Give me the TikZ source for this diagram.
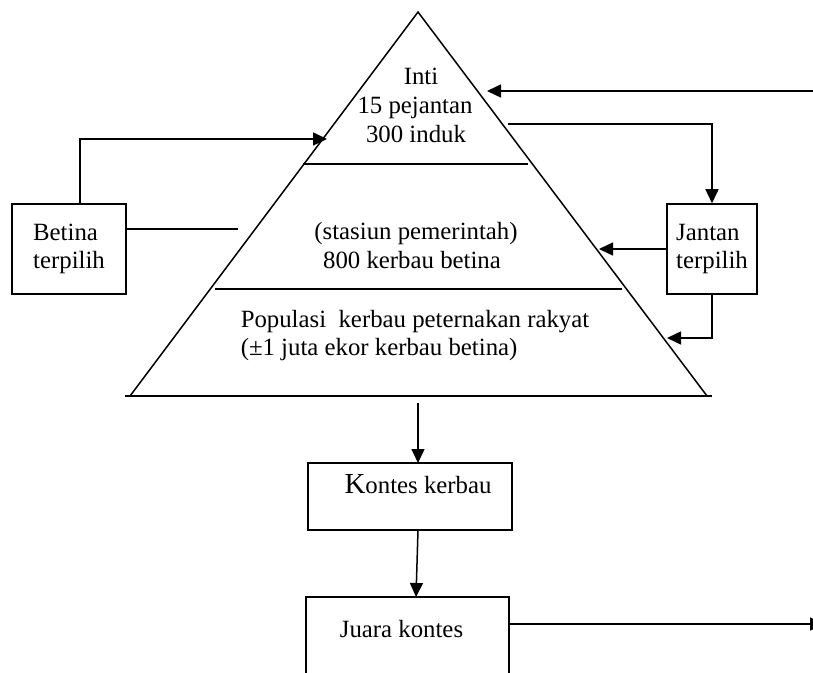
\documentclass[tikz,border=0pt]{standalone}
\usepackage{fontspec}
\setmainfont{Liberation Serif}
\usetikzlibrary{arrows.meta}

\begin{document}
\begin{tikzpicture}[x=0.5pt, y=-0.5pt, line width=0.75pt,
    every node/.style={font=\fontsize{12.4}{14.35}\selectfont},
    box/.style={draw, inner sep=0pt},
    txt/.style={anchor=base, inner sep=0pt},
    arr/.style={-{Triangle[length=7pt,width=6.5pt]}}]
    \useasboundingbox (0,0) rectangle (813,673);

    \coordinate (apex) at (418,12);
    \coordinate (pleft) at (130,396);
    \coordinate (pright) at (707,396);
    \coordinate (baseL) at (125,396);
    \coordinate (baseR) at (712,396);
    \coordinate (divAL) at (303,164);
    \coordinate (divAR) at (528,164);
    \coordinate (divBL) at (215,289);
    \coordinate (divBR) at (622,289);

    \draw (pleft) -- (apex) -- (pright);
    \draw (baseL) -- (baseR);
    \draw (divAL) -- (divAR);
    \draw (divBL) -- (divBR);

    \node[txt] (inti) at (421,85) {Inti};
    \node[txt] (pejantan) at (415,114) {15 pejantan};
    \node[txt] (induk) at (416,143) {300 induk};
    \node[txt] (stasiun) at (416,240) {(stasiun pemerintah)};
    \node[txt] (kerbau) at (412,269) {800 kerbau betina};
    \node[txt, anchor=base west] (populasi) at (240,328) {Populasi\ \ kerbau peternakan rakyat};
    \node[txt, anchor=base west] (juta) at (240,356) {(±1 juta ekor kerbau betina)};

    \node[box, minimum width=57pt, minimum height=45pt, align=left] (betina) at (69,249) {Betina\\terpilih};
    \node[box, minimum width=45pt, minimum height=45pt, align=left] (jantan) at (712,249) {Jantan\\terpilih};
    \node[box, minimum width=102pt, minimum height=33.5pt] (kontes) at (410,496.5) {};
    \node[txt] (kontestxt) at (418,493) {{\fontsize{14.5}{14.5}\selectfont K}ontes kerbau};
    \node[box, minimum width=101.5pt, minimum height=55pt] (juara) at (407.5,652) {};
    \node[txt] (juaratxt) at (401.5,637) {Juara kontes};

    \coordinate (masuk) at (813,91);
    \coordinate (intiR) at (487,91);
    \coordinate (betinaUp) at (80,204);
    \coordinate (betinaTop) at (80,139);
    \coordinate (intiL) at (327,139);
    \coordinate (betinaR) at (126,229);
    \coordinate (stasiunL) at (238,229);
    \coordinate (intiOut) at (508,124);
    \coordinate (jantanTop) at (712,124);
    \coordinate (stasiunR) at (599,249);
    \coordinate (jantanBot) at (712,338);
    \coordinate (rakyatR) at (667,338);
    \coordinate (baseOut) at (418,403);
    \coordinate (kontesIn) at (418,463);
    \coordinate (kontesOut) at (418,530);
    \coordinate (juaraIn) at (416,597);
    \coordinate (juaraOut) at (509,624);
    \coordinate (keluar) at (824,624);

    \draw[arr] (masuk) -- (intiR);
    \draw[arr] (betinaUp) -- (betinaTop) -- (intiL);
    \draw (betinaR) -- (stasiunL);
    \draw[arr] (intiOut) -- (jantanTop) -- (jantan.north);
    \draw[arr] (jantan.west) -- (stasiunR);
    \draw[arr] (jantan.south) -- (jantanBot) -- (rakyatR);
    \draw[arr] (baseOut) -- (kontesIn);
    \draw[arr] (kontesOut) -- (juaraIn);
    \draw[arr] (juaraOut) -- (keluar);
\end{tikzpicture}
\end{document}
